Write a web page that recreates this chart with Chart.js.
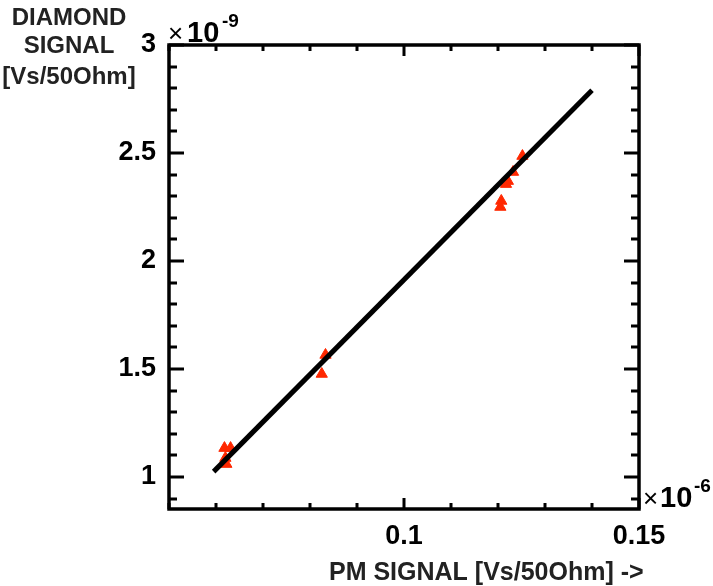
<!DOCTYPE html>
<html lang="en">
<head>
  <meta charset="UTF-8" />
  <title>Diamond vs PM signal</title>
  <script src="https://cdn.jsdelivr.net/npm/chart.js"></script>
  <style>
    html, body { margin: 0; padding: 0; background: #fff; }
    #wrap { width: 713px; height: 586px; }
  </style>
</head>
<body>
  <div id="wrap"><canvas id="chart" width="713" height="586"></canvas></div>

  <script>
    // measured points (x in 1e-6 Vs, y in 1e-9 Vs)
    const pmSignal = [0.0618, 0.0631, 0.0620, 0.0622, 0.0833, 0.0825, 0.1252, 0.1232, 0.1221, 0.1217, 0.1207, 0.1205];
    const diamondSignal = [1.134, 1.134, 1.088, 1.060, 1.565, 1.477, 2.486, 2.412, 2.370, 2.356, 2.278, 2.250];

    // fitted line end points
    const fitX = [0.0595, 0.1400];
    const fitY = [1.025, 2.790];

    // axes
    const xRange = [0.05, 0.15];
    const yRange = [0.852, 3.0];
    const xTicks = [0.1, 0.15];
    const yTicks = [1, 1.5, 2, 2.5, 3];
    const xMinorStep = 0.01;
    const yMinorStep = 0.1;

    const fontFamily = '"Liberation Sans", Arial, sans-serif';

    // ticks pointing inward on all four sides, plus the frame and the text
    const framePlugin = {
      id: 'frame',
      afterDraw(chart) {
        const ctx = chart.ctx;
        const a = chart.chartArea;
        const xs = chart.scales.x, ys = chart.scales.y;
        ctx.save();
        ctx.strokeStyle = '#000';
        ctx.lineWidth = 3;
        ctx.lineCap = 'butt';

        const isMajor = (v, list) => list.some(t => Math.abs(t - v) < 1e-6);

        for (let i = 0; ; i++) {
          const v = xRange[0] + i * xMinorStep;
          if (v > xRange[1] + 1e-9) break;
          const px = Math.round(xs.getPixelForValue(v));
          const len = isMajor(v, xTicks) ? 11 : 6;
          ctx.beginPath();
          ctx.moveTo(px, a.bottom); ctx.lineTo(px, a.bottom - len);
          ctx.moveTo(px, a.top); ctx.lineTo(px, a.top + len);
          ctx.stroke();
        }
        for (let i = 0; ; i++) {
          const v = 0.9 + i * yMinorStep;
          if (v > yRange[1] + 1e-9) break;
          const py = Math.round(ys.getPixelForValue(v));
          const len = isMajor(v, yTicks) ? 15 : 8;
          ctx.beginPath();
          ctx.moveTo(a.left, py); ctx.lineTo(a.left + len, py);
          ctx.moveTo(a.right, py); ctx.lineTo(a.right - len, py);
          ctx.stroke();
        }

        ctx.lineWidth = 3.5;
        ctx.strokeRect(a.left, a.top, a.right - a.left, a.bottom - a.top);

        // exponent markers
        ctx.fillStyle = '#000';
        ctx.textBaseline = 'alphabetic';
        ctx.textAlign = 'left';
        ctx.font = '26px ' + fontFamily;
        ctx.fillText('\u00d7', a.left - 1, a.top - 3);
        ctx.fillText('\u00d7', a.right + 4, a.bottom - 2);
        ctx.font = 'bold 29px ' + fontFamily;
        ctx.fillText('10', a.left + 18, a.top - 3);
        ctx.fillText('10', a.right + 21, a.bottom - 2);
        ctx.font = 'bold 19px ' + fontFamily;
        ctx.fillText('-9', a.left + 53, a.top - 18);
        ctx.fillText('-6', a.right + 55, a.bottom - 17);

        // axis titles
        ctx.fillStyle = '#222';
        ctx.font = 'bold 25px ' + fontFamily;
        ctx.textAlign = 'left';
        ctx.fillText('PM SIGNAL [Vs/50Ohm] ->', 329, 580);
        ctx.textAlign = 'center';
        ctx.font = 'bold 24px ' + fontFamily;
        ctx.fillText('DIAMOND', 69, 25);
        ctx.fillText('SIGNAL', 69, 53);
        ctx.fillText('[Vs/50Ohm]', 69, 84);
        ctx.restore();
      }
    };

    new Chart(document.getElementById('chart'), {
      type: 'scatter',
      data: {
        datasets: [
          {
            label: 'fit',
            type: 'line',
            data: fitX.map((x, i) => ({ x, y: fitY[i] })),
            borderColor: '#000',
            borderWidth: 5,
            pointRadius: 0,
            fill: false,
            order: 1
          },
          {
            label: 'data',
            data: pmSignal.map((x, i) => ({ x, y: diamondSignal[i] })),
            pointStyle: 'triangle',
            pointRadius: 6.5,
            backgroundColor: 'rgb(255,40,0)',
            borderColor: 'rgb(255,40,0)',
            borderWidth: 1,
            order: 2
          }
        ]
      },
      options: {
        responsive: false,
        animation: false,
        layout: { padding: { top: 45, right: 74, left: 0, bottom: 0 } },
        plugins: { legend: { display: false }, tooltip: { enabled: false } },
        scales: {
          x: {
            type: 'linear',
            min: xRange[0],
            max: xRange[1],
            afterBuildTicks: s => { s.ticks = xTicks.map(v => ({ value: v })); },
            afterFit: s => { s.height = 77; },
            grid: { display: false },
            border: { display: false },
            ticks: {
              color: '#000',
              padding: 3,
              autoSkip: false,
              maxRotation: 0,
              font: { family: fontFamily, size: 27, weight: 'bold' },
              callback: v => String(v)
            }
          },
          y: {
            type: 'linear',
            min: yRange[0],
            max: yRange[1],
            afterBuildTicks: s => { s.ticks = yTicks.map(v => ({ value: v })); },
            afterFit: s => { s.width = 169; },
            grid: { display: false },
            border: { display: false },
            ticks: {
              color: '#000',
              padding: 5,
              autoSkip: false,
              font: { family: fontFamily, size: 27, weight: 'bold' },
              callback: v => String(v)
            }
          }
        }
      },
      plugins: [framePlugin]
    });
  </script>
</body>
</html>
